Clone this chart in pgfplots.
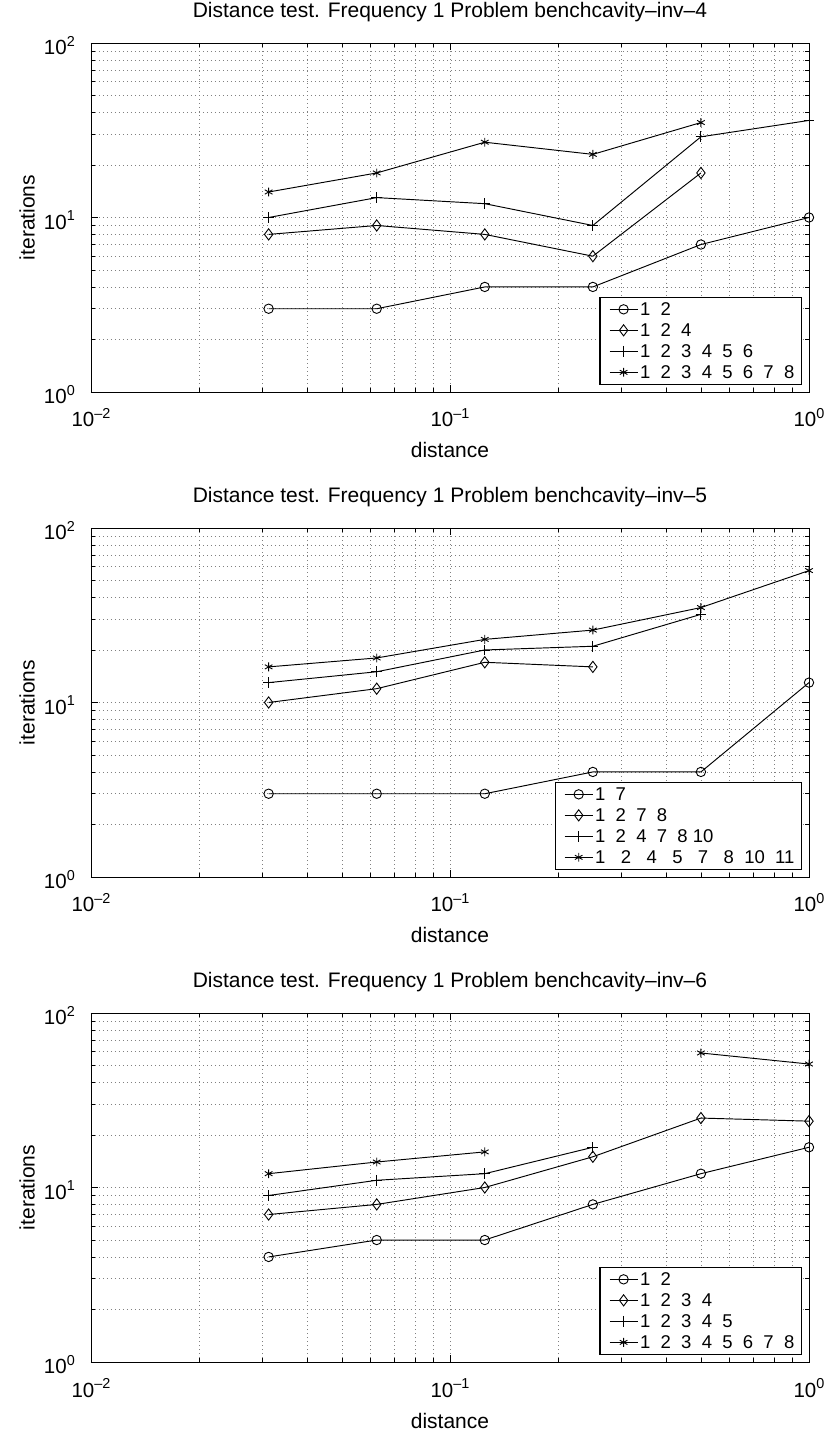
\documentclass[border=0pt]{standalone}
\usepackage{fontspec}
\setmainfont{Liberation Sans}
\usepackage{pgfplots}
\pgfplotsset{compat=1.18}

\newcommand{\myfs}{\fontsize{18.5}{22}\selectfont}
\newcommand{\tickfs}{\fontsize{20.5}{24}\selectfont}
\newcommand{\labfs}{\fontsize{21}{25}\selectfont}
\newcommand{\tenp}[1]{10\raisebox{0.42em}{\fontsize{14.4}{14}\selectfont #1}}

\pgfplotsset{
 scale only axis, width=718pt, height=349pt,
 grid=both,
 tick align=inside, tick pos=both,
 major tick length=7pt, minor tick length=4pt,
 clip=false,
 unbounded coords=jump,
 legend cell align=left,
 legend image code/.code={\path (-4pt,0pt); \draw[mark repeat=2, mark phase=2, #1] plot coordinates {(0pt,0pt) (14pt,0pt) (28pt,0pt)};},
}
\tikzset{
 scirc/.style={black, line width=0.95pt, mark=o, mark size=4.7pt, mark options={solid, line width=0.9pt}},
 sdiam/.style={black, line width=0.95pt, mark=diamond, mark size=5.6pt, mark options={solid, line width=0.9pt}},
 splus/.style={black, line width=0.95pt, mark=+, mark size=5.4pt, mark options={solid, line width=0.9pt}},
 sstar/.style={black, line width=0.95pt, mark=asterisk, mark size=4.4pt, mark options={solid, line width=0.9pt}},
}

\begin{document}
\begin{tikzpicture}
\useasboundingbox (0,0) rectangle (828pt,1436pt);

% ---------- Plot 1 ----------
\begin{axis}[at={(91pt,1044pt)}, anchor=south west,
  xmode=log, ymode=log, xmin=0.01, xmax=1, ymin=1, ymax=100,
  xtick={0.01,0.1,1}, xticklabels={\tenp{–2},\tenp{–1},\tenp{0}},
  ytick={1,10,100}, yticklabels={\tenp{0},\tenp{1},\tenp{2}},
  minor xtick={0.02,0.03,0.04,0.05,0.06,0.07,0.08,0.09,0.2,0.3,0.4,0.5,0.6,0.7,0.8,0.9},
  minor ytick={2,3,4,5,6,7,8,9,20,30,40,50,60,70,80,90},
  major grid style={black!50, line width=0.6pt, dash pattern=on 0.8pt off 3.2pt},
  minor grid style={black!50, line width=0.6pt, dash pattern=on 0.8pt off 3.2pt},
  every tick/.style={black, line width=0.8pt},
  axis line style={black, line width=0.9pt},
  tick label style={font=\tickfs, inner sep=0pt},
  xticklabel style={anchor=base, yshift=-35pt},
  yticklabel style={anchor=east, xshift=-16pt, yshift=-2.5pt},
  label style={font=\labfs},
  title style={font=\labfs, at={(axis description cs:0.5,1)}, anchor=base, yshift=19pt},
  xlabel={distance}, ylabel={iterations},
  xlabel style={at={(axis description cs:0.5,0)}, anchor=base, yshift=-66pt},
  ylabel style={at={(axis description cs:-0.0891,0.5)}, anchor=center},
  legend style={at={(axis description cs:1,0)}, anchor=south east, xshift=-7pt, yshift=7pt,
    draw=black, line width=1.3pt, fill=white, inner xsep=5pt, inner ysep=1.5pt, font=\myfs,
    nodes={inner xsep=2pt, inner ysep=4pt, text height=13pt, text depth=0pt}},
  title={Distance test. Frequency 1 Problem benchcavity–inv–4}]
\addplot[scirc] coordinates {(0.03125,3) (0.0625,3) (0.125,4) (0.25,4) (0.5,7) (1,10)};
\addlegendentry{1~~2}
\addplot[sdiam] coordinates {(0.03125,8) (0.0625,9) (0.125,8) (0.25,6) (0.5,18)};
\addlegendentry{1~~2~~4}
\addplot[splus] coordinates {(0.03125,10) (0.0625,13) (0.125,12) (0.25,9) (0.5,29) (1,36)};
\addlegendentry{1~~2~~3~~4~~5~~6}
\addplot[sstar] coordinates {(0.03125,14) (0.0625,18) (0.125,27) (0.25,23) (0.5,35)};
\addlegendentry{1~~2~~3~~4~~5~~6~~7~~8}
\end{axis}

% ---------- Plot 2 ----------
\begin{axis}[at={(91pt,559pt)}, anchor=south west,
  xmode=log, ymode=log, xmin=0.01, xmax=1, ymin=1, ymax=100,
  xtick={0.01,0.1,1}, xticklabels={\tenp{–2},\tenp{–1},\tenp{0}},
  ytick={1,10,100}, yticklabels={\tenp{0},\tenp{1},\tenp{2}},
  minor xtick={0.02,0.03,0.04,0.05,0.06,0.07,0.08,0.09,0.2,0.3,0.4,0.5,0.6,0.7,0.8,0.9},
  minor ytick={2,3,4,5,6,7,8,9,20,30,40,50,60,70,80,90},
  major grid style={black!50, line width=0.6pt, dash pattern=on 0.8pt off 3.2pt},
  minor grid style={black!50, line width=0.6pt, dash pattern=on 0.8pt off 3.2pt},
  every tick/.style={black, line width=0.8pt},
  axis line style={black, line width=0.9pt},
  tick label style={font=\tickfs, inner sep=0pt},
  xticklabel style={anchor=base, yshift=-35pt},
  yticklabel style={anchor=east, xshift=-16pt, yshift=-2.5pt},
  label style={font=\labfs},
  title style={font=\labfs, at={(axis description cs:0.5,1)}, anchor=base, yshift=19pt},
  xlabel={distance}, ylabel={iterations},
  xlabel style={at={(axis description cs:0.5,0)}, anchor=base, yshift=-66pt},
  ylabel style={at={(axis description cs:-0.0891,0.5)}, anchor=center},
  legend style={at={(axis description cs:1,0)}, anchor=south east, xshift=-7pt, yshift=7pt,
    draw=black, line width=1.3pt, fill=white, inner xsep=5pt, inner ysep=1.5pt, font=\myfs,
    nodes={inner xsep=2pt, inner ysep=4pt, text height=13pt, text depth=0pt}},
  title={Distance test. Frequency 1 Problem benchcavity–inv–5}]
\addplot[scirc] coordinates {(0.03125,3) (0.0625,3) (0.125,3) (0.25,4) (0.5,4) (1,13)};
\addlegendentry{1~~7}
\addplot[sdiam] coordinates {(0.03125,10) (0.0625,12) (0.125,17) (0.25,16)};
\addlegendentry{1~~2~~7~~8}
\addplot[splus] coordinates {(0.03125,13) (0.0625,15) (0.125,20) (0.25,21) (0.5,32)};
\addlegendentry{1~~2~~4~~7~~8~10}
\addplot[sstar] coordinates {(0.03125,16) (0.0625,18) (0.125,23) (0.25,26) (0.5,35) (1,57)};
\addlegendentry{1~~~2~~~4~~~5~~~7~~~8~~10~~11}
\end{axis}

% ---------- Plot 3 ----------
\begin{axis}[at={(91pt,74pt)}, anchor=south west,
  xmode=log, ymode=log, xmin=0.01, xmax=1, ymin=1, ymax=100,
  xtick={0.01,0.1,1}, xticklabels={\tenp{–2},\tenp{–1},\tenp{0}},
  ytick={1,10,100}, yticklabels={\tenp{0},\tenp{1},\tenp{2}},
  minor xtick={0.02,0.03,0.04,0.05,0.06,0.07,0.08,0.09,0.2,0.3,0.4,0.5,0.6,0.7,0.8,0.9},
  minor ytick={2,3,4,5,6,7,8,9,20,30,40,50,60,70,80,90},
  major grid style={black!50, line width=0.6pt, dash pattern=on 0.8pt off 3.2pt},
  minor grid style={black!50, line width=0.6pt, dash pattern=on 0.8pt off 3.2pt},
  every tick/.style={black, line width=0.8pt},
  axis line style={black, line width=0.9pt},
  tick label style={font=\tickfs, inner sep=0pt},
  xticklabel style={anchor=base, yshift=-35pt},
  yticklabel style={anchor=east, xshift=-16pt, yshift=-2.5pt},
  label style={font=\labfs},
  title style={font=\labfs, at={(axis description cs:0.5,1)}, anchor=base, yshift=19pt},
  xlabel={distance}, ylabel={iterations},
  xlabel style={at={(axis description cs:0.5,0)}, anchor=base, yshift=-66pt},
  ylabel style={at={(axis description cs:-0.0891,0.5)}, anchor=center},
  legend style={at={(axis description cs:1,0)}, anchor=south east, xshift=-7pt, yshift=7pt,
    draw=black, line width=1.3pt, fill=white, inner xsep=5pt, inner ysep=1.5pt, font=\myfs,
    nodes={inner xsep=2pt, inner ysep=4pt, text height=13pt, text depth=0pt}},
  title={Distance test. Frequency 1 Problem benchcavity–inv–6}]
\addplot[scirc] coordinates {(0.03125,4) (0.0625,5) (0.125,5) (0.25,8) (0.5,12) (1,17)};
\addlegendentry{1~~2}
\addplot[sdiam] coordinates {(0.03125,7) (0.0625,8) (0.125,10) (0.25,15) (0.5,25) (1,24)};
\addlegendentry{1~~2~~3~~4}
\addplot[splus] coordinates {(0.03125,9) (0.0625,11) (0.125,12) (0.25,17)};
\addlegendentry{1~~2~~3~~4~~5}
\addplot[sstar] coordinates {(0.03125,12) (0.0625,14) (0.125,16) (0.25,nan) (0.5,59) (1,51)};
\addlegendentry{1~~2~~3~~4~~5~~6~~7~~8}
\end{axis}
\end{tikzpicture}
\end{document}
